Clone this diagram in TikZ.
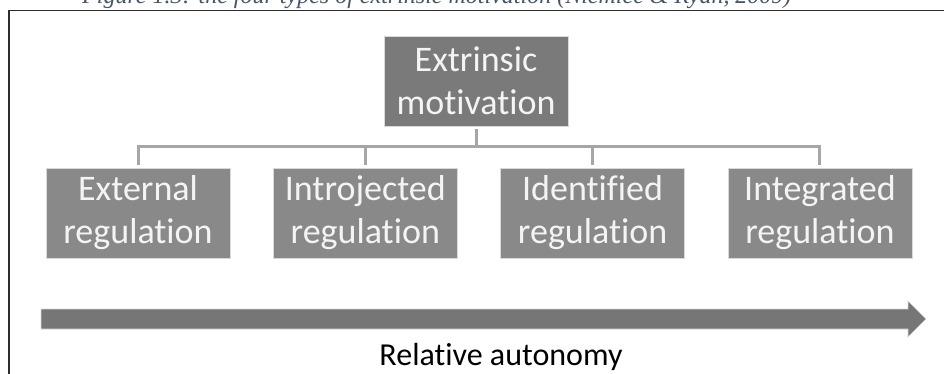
\documentclass[tikz,border=0pt]{standalone}
\usepackage{fontspec}
\setmainfont{Carlito}[Ligatures=NoCommon]
\newfontfamily\captionserif{Liberation Serif}
\usepackage{xcolor}
\usetikzlibrary{positioning,calc}
\definecolor{TopGrey}{HTML}{7A7A7A}
\definecolor{RegGrey}{HTML}{898989}
\definecolor{EdgeGrey}{HTML}{D9D9D9}
\definecolor{BoxText}{HTML}{F4F4F4}
\definecolor{LinkGrey}{HTML}{A6A6A6}
\definecolor{ArrowGrey}{HTML}{767676}
\definecolor{FrameGrey}{HTML}{2E2E2E}
\definecolor{CaptionBlue}{HTML}{44546A}

\begin{document}
\begin{tikzpicture}[
  x=1pt, y=-1pt,
  node distance=42pt and 42.5pt,
  regbox/.style={fill=RegGrey, draw=EdgeGrey, line width=0.8pt, text=BoxText, align=center,
    minimum width=184pt, minimum height=90pt, inner sep=0pt, font=\fontsize{36}{43}\selectfont},
  topbox/.style={regbox, fill=TopGrey},
  link/.style={draw=LinkGrey, line width=3pt},
  bigarrow/.style={fill=ArrowGrey, draw=EdgeGrey, line width=0.6pt},
  frame/.style={draw=FrameGrey, line width=1.3pt},
  captext/.style={text=CaptionBlue, font=\captionserif\itshape\fontsize{24}{28}\selectfont, inner sep=0pt},
  autlabel/.style={font=\fontsize{32}{38}\selectfont, inner sep=0pt}
]
\useasboundingbox (0,0) rectangle (944,374);
\clip (0,0) rectangle (944,374);

% caption above the frame, cut off by the page
\node[captext, anchor=base west] (caption) at (82,4) {Figure 1.3: the four types of extrinsic motivation (Niemiec \& Ryan, 2009)};
\draw[frame] (9,10.5) rectangle (1000,500);

\node[topbox] (extr) at (476,81) {Extrinsic\\motivation};
\node[regbox] (ext) at (138,213) {External\\regulation};
\node[regbox, right=of ext] (intro) {Introjected\\regulation};
\node[regbox, right=of intro] (ident) {Identified\\regulation};
\node[regbox, right=of ident] (integ) {Integrated\\regulation};

% tree connectors
\coordinate (bar) at (476,147);
\draw[link, shorten <=3pt] (extr.south) -- (bar);
\draw[link, shorten <=3pt, shorten >=3pt] (ext.north) -- (ext.north |- bar) -- (integ.north |- bar) -- (integ.north);
\foreach \n in {intro,ident}
  \draw[link, shorten >=3pt] (\n.north |- bar) -- (\n.north);

% autonomy arrow
\coordinate (arrowstart) at (41,319);
\coordinate (arrowtip) at (926,319);
\filldraw[bigarrow] ($(arrowstart)+(0,-10)$) -- ($(arrowtip)+(-18,-10)$) -- ($(arrowtip)+(-18,-18)$)
  -- (arrowtip) -- ($(arrowtip)+(-18,18)$) -- ($(arrowtip)+(-18,10)$) -- ($(arrowstart)+(0,10)$) -- cycle;
\node[autlabel, anchor=base] (autonomy) at (501,365) {Relative autonomy};
\end{tikzpicture}
\end{document}
